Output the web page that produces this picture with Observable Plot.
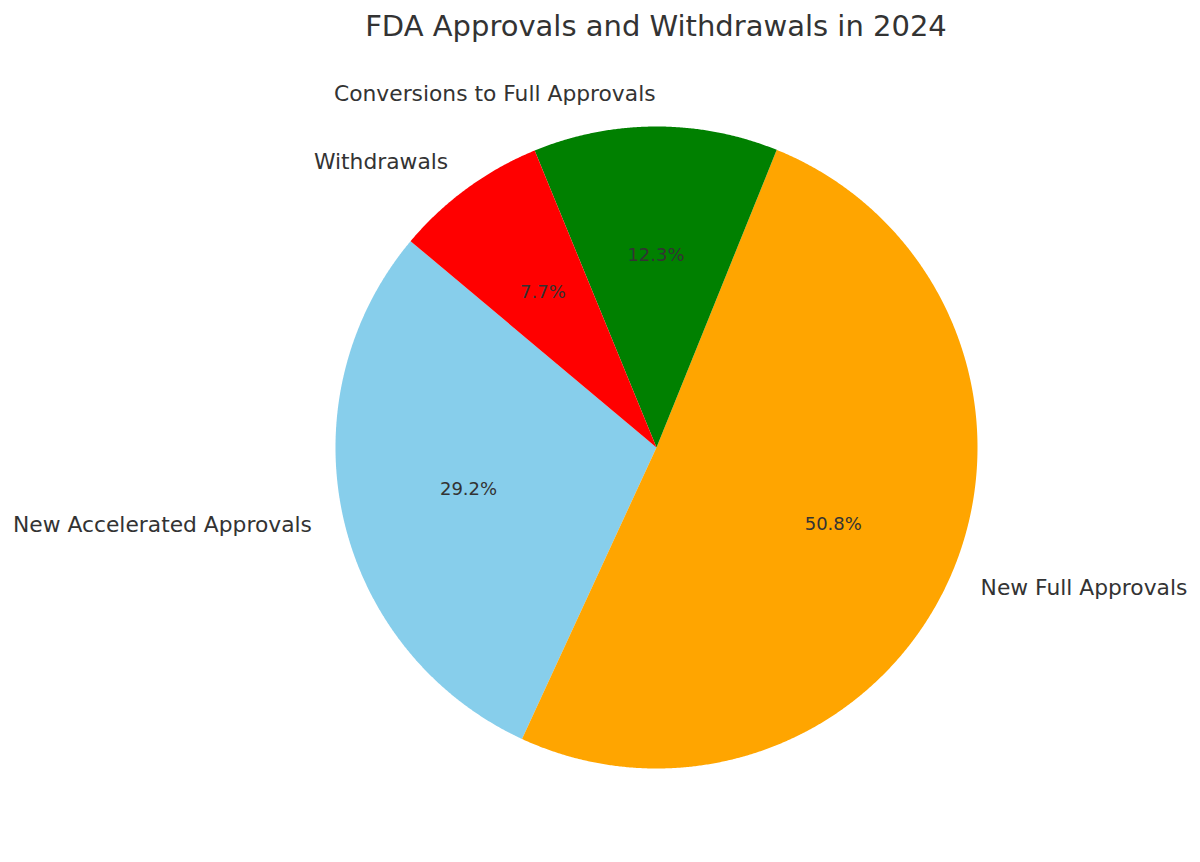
<!DOCTYPE html>
<html>
<head>
<meta charset="utf-8">
<script src="https://cdn.jsdelivr.net/npm/d3@7"></script>
<script src="https://cdn.jsdelivr.net/npm/@observablehq/plot@0.6"></script>
<style>
  body { margin: 0; background: #fff; font-family: "DejaVu Sans", sans-serif; }
  #title { position: relative; width: 1200px; height: 50px; }
  #title span { position: absolute; left: 656px; top: 12px; transform: translateX(-50%);
    font-size: 29px; line-height: 1; color: #333; white-space: nowrap; }
</style>
</head>
<body>
<div id="title"><span>FDA Approvals and Withdrawals in 2024</span></div>
<div id="chart"></div>
<script>
const labels = ["New Accelerated Approvals", "New Full Approvals", "Conversions to Full Approvals", "Withdrawals"];
const counts = [19, 33, 8, 5];
const colors = ["skyblue", "orange", "green", "red"];
const startAngle = 140;

const total = d3.sum(counts);
let acc = startAngle;
const slices = labels.map((label, i) => {
  const span = counts[i] / total * 360;
  const a0 = acc, a1 = acc + span;
  acc = a1;
  return {label, count: counts[i], color: colors[i], a0, a1, mid: (a0 + a1) / 2, pct: (counts[i] / total * 100).toFixed(1) + "%"};
});

const rad = d => d * Math.PI / 180;
const wedgePts = [];
for (const s of slices) {
  wedgePts.push({label: s.label, color: s.color, x: 0, y: 0});
  const n = Math.max(2, Math.ceil((s.a1 - s.a0) / 0.25));
  for (let k = 0; k <= n; k++) {
    const a = rad(s.a0 + (s.a1 - s.a0) * k / n);
    wedgePts.push({label: s.label, color: s.color, x: Math.cos(a), y: Math.sin(a)});
  }
  wedgePts.push({label: s.label, color: s.color, x: 0, y: 0});
}

const outer = slices.map(s => ({...s, x: 1.1 * Math.cos(rad(s.mid)), y: 1.1 * Math.sin(rad(s.mid))}));
const inner = slices.map(s => ({...s, x: 0.6 * Math.cos(rad(s.mid)), y: 0.6 * Math.sin(rad(s.mid))}));

const R = 321, cx = 656, cy = 397;
const chart = Plot.plot({
  width: 1200,
  height: 812,
  margin: 0,
  x: {domain: [-1, 1], range: [cx - R, cx + R], axis: null},
  y: {domain: [-1, 1], range: [cy + R, cy - R], axis: null},
  color: {type: "identity"},
  style: {fontFamily: "DejaVu Sans, sans-serif", color: "#333", background: "#fff"},
  marks: [
    Plot.line(wedgePts, {x: "x", y: "y", z: "label", fill: "color", stroke: "none", curve: "linear"}),
    Plot.text(inner, {x: "x", y: "y", text: "pct", fontSize: 18, fill: "#333", textAnchor: "middle"}),
    Plot.text(outer.filter(d => d.x > 0), {x: "x", y: "y", text: "label", fontSize: 21.8, fill: "#333", textAnchor: "start"}),
    Plot.text(outer.filter(d => d.x <= 0), {x: "x", y: "y", text: "label", fontSize: 21.8, fill: "#333", textAnchor: "end"})
  ]
});
document.getElementById("chart").appendChild(chart);
</script>
</body>
</html>
